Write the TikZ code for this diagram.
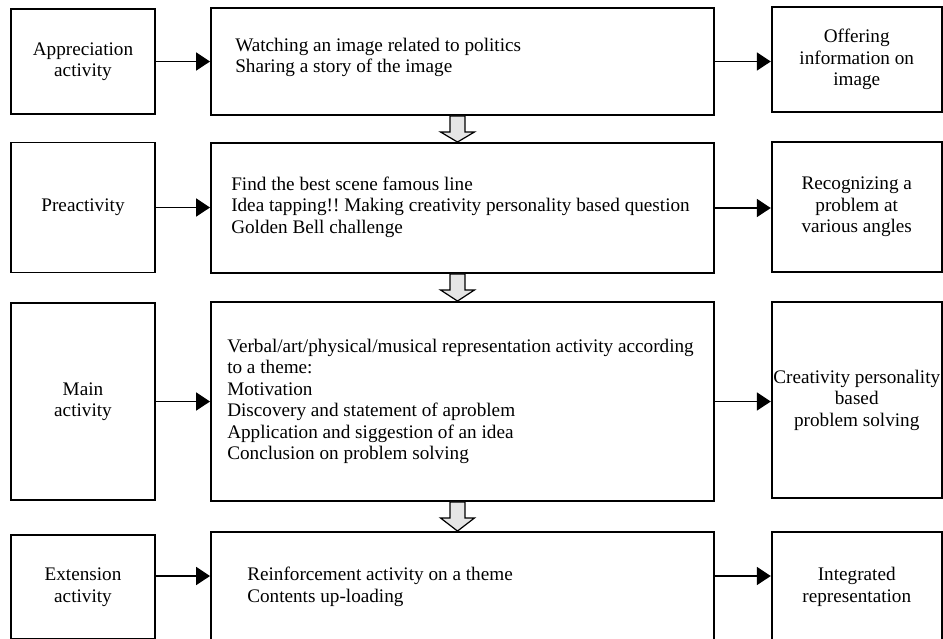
\documentclass[tikz,border=0pt]{standalone}
\usepackage{fontspec}
\setmainfont{Liberation Serif}
\usepackage{tikz}
\usetikzlibrary{arrows.meta,calc}

\tikzset{
	leftbox/.style={draw, line width=1.9pt, minimum width=144pt, minimum height=#1, align=center, inner sep=1pt},
	rightbox/.style={draw, line width=1.9pt, minimum width=170pt, minimum height=#1, align=center, inner sep=1pt},
	midbox/.style={draw, line width=1.9pt, minimum width=503pt, minimum height=#1},
	midtext/.style={anchor=west, align=left, inner sep=0pt},
	blockarrow/.style={draw, line width=1.2pt, fill=gray!20}
}

% hollow block arrow from one step down to the next
\newcommand{\stepdown}[2]{%
	\draw[blockarrow] ($(#1.south)+(-12.5,0)$) -- ($(#1.south)+(-12.5,16)$) -- ($(#1.south)+(-22,16)$)
		-- ($(#2.north)+(-5,0)$) -- ($(#1.south)+(12,16)$) -- ($(#1.south)+(2.5,16)$) -- ($(#1.south)+(2.5,0)$) -- cycle;}

\begin{document}
\frenchspacing
\begin{tikzpicture}[x=1pt, y=-1pt, >={Triangle[length=14pt,width=18pt]}, font=\fontsize{19.2}{21.5}\selectfont]
		\useasboundingbox (0,0) rectangle (943,638);
		\clip (0,0) rectangle (943,638);
		%1
		\node [leftbox=105pt] (appr) at (83,61.5) {Appreciation\\activity};
		\node [midbox=107pt] (watch) at (462.5,61.5) {};
		\node [midtext] (watchtext) at ([xshift=25pt, yshift=4pt]watch.west) {Watching an image related to politics\\Sharing a story of the image};
		\node [rightbox=105pt] (offer) at (856.75,59.5) {Offering\\information on\\image};
		\draw [->, line width=1.9pt] (appr.east) -- (appr.east -| watch.west);
		\draw [->, line width=1.9pt] (watch.east) -- (watch.east -| offer.west);
		%2
		\node [leftbox=130pt] (pre) at (83,207.5) {Preactivity};
		\node [midbox=130pt] (find) at (462.5,208) {};
		\node [midtext] (findtext) at ([xshift=21pt, yshift=1pt]find.west) {Find the best scene famous line\\Idea tapping!! Making creativity personality based question\\Golden Bell challenge};
		\node [rightbox=130pt] (recog) at (856.75,207) {Recognizing a\\problem at\\various angles};
		\draw [->, line width=1.9pt] (pre.east) -- (pre.east -| find.west);
		\draw [->, line width=1.9pt] (find.east) -- (find.east -| recog.west);
		%3
		\node [leftbox=197pt] (main) at (83,401.5) {Main\\activity};
		\node [midbox=199pt] (verbal) at (462.5,401.5) {};
		\node [midtext] (verbaltext) at ([xshift=17pt]verbal.west) {Verbal/art/physical/musical representation activity according\\to a theme:\\Motivation\\Discovery and statement of aproblem\\Application and siggestion of an idea\\Conclusion on problem solving};
		\node [rightbox=196pt] (creat) at (856.75,400) {Creativity personality\\based\\problem solving};
		\draw [->, line width=1.9pt] (main.east) -- (main.east -| verbal.west);
		\draw [->, line width=1.9pt] (verbal.east) -- (verbal.east -| creat.west);
		%4
		\node [leftbox=104pt] (ext) at (83,587) {Extension\\activity};
		\node [midbox=110pt] (reinf) at (462.5,587) {};
		\node [midtext] (reinftext) at ([xshift=37pt]reinf.west) {Reinforcement activity on a theme\\Contents up-loading};
		\node [rightbox=110pt] (integ) at (856.75,587) {Integrated\\representation};
		\draw [->, line width=1.9pt] ([yshift=11pt]ext.east) -- ([yshift=11pt]reinf.west);
		\draw [->, line width=1.9pt] ([yshift=11pt]reinf.east) -- ([yshift=11pt]integ.west);
		% steps
		\stepdown{watch}{find}
		\stepdown{find}{verbal}
		\stepdown{verbal}{reinf}
\end{tikzpicture}
\end{document}
